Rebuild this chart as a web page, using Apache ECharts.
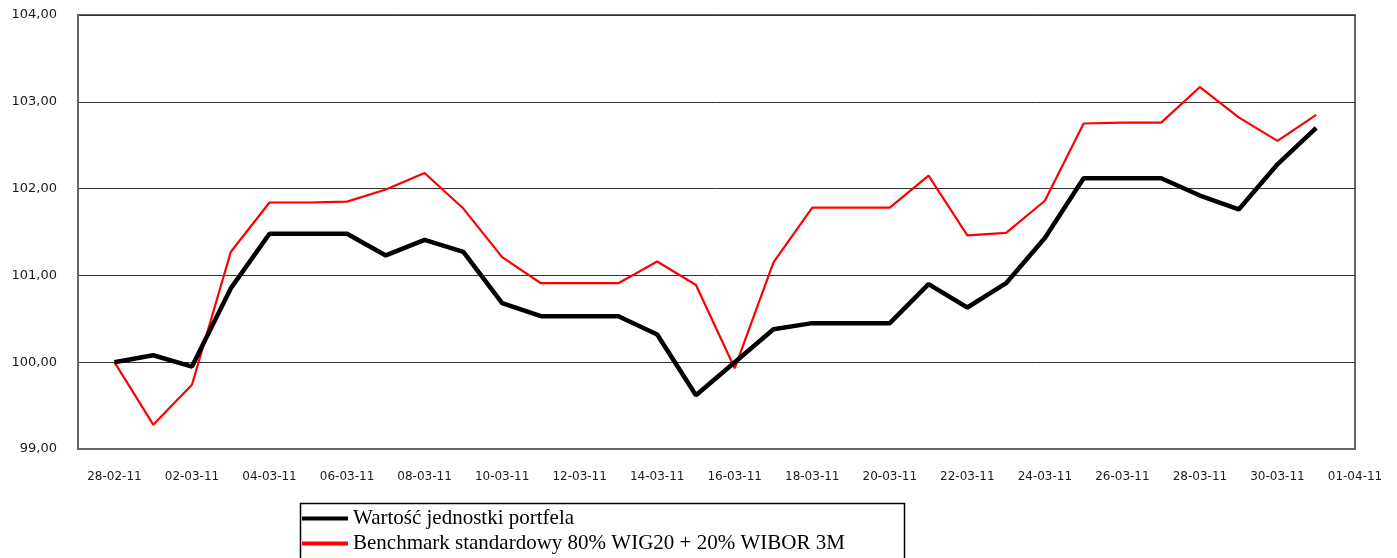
<!DOCTYPE html>
<html><head><meta charset="utf-8">
<script src="https://cdn.jsdelivr.net/npm/echarts@6/dist/echarts.min.js"></script>
<style>html,body{margin:0;padding:0;background:#fff}#c{width:1397px;height:558px}</style>
</head><body><div id="c"></div>
<script>
const dates = ['28-02-11','01-03-11','02-03-11','03-03-11','04-03-11','05-03-11','06-03-11','07-03-11','08-03-11','09-03-11','10-03-11','11-03-11','12-03-11','13-03-11','14-03-11','15-03-11','16-03-11','17-03-11','18-03-11','19-03-11','20-03-11','21-03-11','22-03-11','23-03-11','24-03-11','25-03-11','26-03-11','27-03-11','28-03-11','29-03-11','30-03-11','31-03-11','01-04-11'];
const tickLabels = ['28-02-11','02-03-11','04-03-11','06-03-11','08-03-11','10-03-11','12-03-11','14-03-11','16-03-11','18-03-11','20-03-11','22-03-11','24-03-11','26-03-11','28-03-11','30-03-11','01-04-11'];
const portfolio = [100.00,100.08,99.95,100.85,101.48,101.48,101.48,101.23,101.41,101.27,100.68,100.53,100.53,100.53,100.32,99.62,100.00,100.38,100.45,100.45,100.45,100.90,100.63,100.91,101.43,102.12,102.12,102.12,101.92,101.76,102.28,102.70];
const benchmark = [100.00,99.28,99.74,101.27,101.84,101.84,101.85,101.99,102.18,101.77,101.21,100.91,100.91,100.91,101.16,100.89,99.93,101.15,101.78,101.78,101.78,102.15,101.46,101.49,101.86,102.75,102.76,102.76,103.17,102.82,102.55,102.85];
const seriesNames = ['Wartość jednostki portfela','Benchmark standardowy 80% WIG20 + 20% WIBOR 3M'];

const tickIdx = tickLabels.map(t => dates.indexOf(t));
const toPairs = arr => arr.map((v,i) => [i, v]);

const chart = echarts.init(document.getElementById('c'));
chart.setOption({
  animation:false,
  backgroundColor:'#fff',
  grid:{left:78,right:42,top:15,bottom:109,show:true,borderColor:'#666',borderWidth:2},
  graphic:[{type:'rect',left:298,top:501,shape:{width:604,height:80},style:{fill:'none',stroke:'#000',lineWidth:1.5},silent:true}],
  legend:{
    orient:'vertical',left:302,top:508,
    padding:0,itemGap:4,
    itemWidth:46,itemHeight:4,
    textStyle:{fontFamily:'Liberation Serif',fontSize:21,color:'#000'},
    data:[{name:seriesNames[0],icon:'rect',itemStyle:{color:'#000'}},{name:seriesNames[1],icon:'rect',itemStyle:{color:'#ff0000'}}]
  },
  xAxis:{type:'value',min:-0.94,max:dates.length-1,
    axisLine:{show:true,onZero:false,lineStyle:{color:'#666',width:2}},axisTick:{show:false},
    axisLabel:{customValues:tickIdx,margin:22,fontFamily:'DejaVu Sans',fontSize:12,color:'#1a1a1a',
      formatter:v=>dates[Math.round(v)]},
    splitLine:{show:false}},
  yAxis:{type:'value',min:99,max:104,interval:1,
    axisLine:{show:true,onZero:false,lineStyle:{color:'#666',width:2}},axisTick:{show:false},
    axisLabel:{margin:21,fontFamily:'DejaVu Sans',fontSize:13,color:'#1a1a1a',formatter:v=>v.toFixed(2).replace('.',',')},
    splitLine:{lineStyle:{color:'#333',width:1}}},
  series:[
    {name:seriesNames[0],type:'line',data:toPairs(portfolio),symbol:'none',z:3,lineStyle:{color:'#000',width:4.5},itemStyle:{color:'#000'}},
    {name:seriesNames[1],type:'line',data:toPairs(benchmark),symbol:'none',z:2,lineStyle:{color:'#ff0000',width:2.2},itemStyle:{color:'#ff0000'}}
  ]
});
</script></body></html>
